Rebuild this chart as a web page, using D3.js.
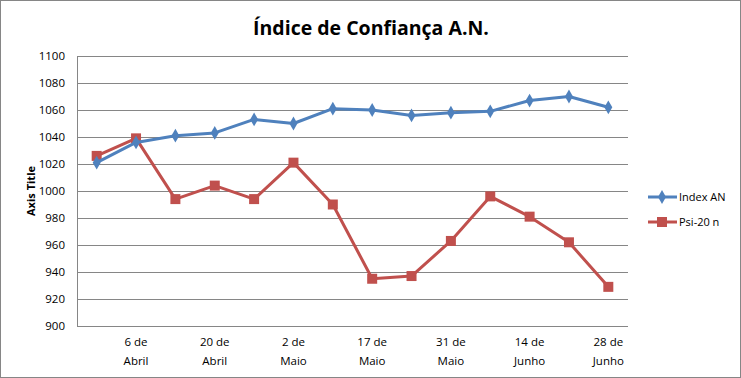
<!DOCTYPE html>
<html>
<head>
<meta charset="utf-8">
<script src="https://cdn.jsdelivr.net/npm/d3@7"></script>
<style>
body { margin: 0; background: #fff; }
svg { display: block; }
</style>
</head>
<body>
<script>
// données
const categories = ["", "6 de|Abril", "", "20 de|Abril", "", "2 de|Maio", "", "17 de|Maio", "", "31 de|Maio", "", "14 de|Junho", "", "28 de|Junho"]
const indexAN = [1021, 1036, 1041, 1043, 1053, 1050, 1061, 1060, 1056, 1058, 1059, 1067, 1070, 1062]
const psi20 = [1026, 1039, 994, 1004, 994, 1021, 990, 935, 937, 963, 996, 981, 962, 929]
const yTicks = [900, 920, 940, 960, 980, 1000, 1020, 1040, 1060, 1080, 1100]

const W = 741, H = 378
const font = "'Open Sans', 'Liberation Sans', sans-serif"

const svg = d3.select("body").append("svg").attr("width", W).attr("height", H)

// cadre
svg.append("rect").attr("x", 0.5).attr("y", 0.5).attr("width", W - 1).attr("height", H - 1)
  .attr("fill", "#fff").attr("stroke", "#868686")

const x = d3.scaleBand().domain(d3.range(categories.length)).range([77, 628])
const y = d3.scaleLinear().domain([900, 1100]).range([326, 56])

// gridlines
svg.append("g").selectAll("line").data(yTicks).enter().append("line")
  .attr("x1", 77).attr("x2", 628)
  .attr("y1", d => Math.round(y(d)) + 0.5).attr("y2", d => Math.round(y(d)) + 0.5)
  .attr("stroke", "#868686")

svg.append("line").attr("x1", 77.5).attr("x2", 77.5).attr("y1", y(1100)).attr("y2", y(900))
  .attr("stroke", "#868686")

// y labels
svg.append("g").selectAll("text").data(yTicks).enter().append("text")
  .attr("x", 65).attr("y", d => y(d) + 4)
  .attr("text-anchor", "end").attr("font-family", font).attr("font-size", 11.5)
  .attr("fill", "#000").text(d => d)

// x labels
const xl = svg.append("g").selectAll("text").data(categories.map((c, i) => [c, i]).filter(d => d[0] !== ""))
  .enter().append("text")
  .attr("text-anchor", "middle").attr("font-family", font).attr("font-size", 11.5).attr("fill", "#000")
xl.append("tspan").attr("x", d => x(d[1]) + x.bandwidth() / 2).attr("y", 346).text(d => d[0].split("|")[0])
xl.append("tspan").attr("x", d => x(d[1]) + x.bandwidth() / 2).attr("y", 365).text(d => d[0].split("|")[1])

// titre
svg.append("text").attr("x", 371).attr("y", 35).attr("text-anchor", "middle")
  .attr("font-family", font).attr("font-weight", "bold").attr("font-size", 19.5)
  .text("Índice de Confiança A.N.")

svg.append("text").attr("transform", "translate(35,191) rotate(-90)").attr("text-anchor", "middle")
  .attr("font-family", font).attr("font-weight", "bold").attr("font-size", 11)
  .text("Axis Title")

// séries
const series = [
  { name: "Index AN", values: indexAN, color: "#4F81BD", shape: d3.symbolDiamond, size: 55 },
  { name: "Psi-20 n", values: psi20, color: "#C0504D", shape: d3.symbolSquare, size: 100 }
]
const cx = i => x(i) + x.bandwidth() / 2
const line = d3.line().x((d, i) => cx(i)).y(d => y(d))

series.slice().reverse().forEach(s => {
  svg.append("path").datum(s.values).attr("d", line)
    .attr("fill", "none").attr("stroke", s.color).attr("stroke-width", 3).attr("stroke-linejoin", "round")
  svg.append("g").selectAll("path").data(s.values).enter().append("path")
    .attr("d", d3.symbol().type(s.shape).size(s.size))
    .attr("transform", (d, i) => `translate(${cx(i)},${y(d)})`)
    .attr("fill", s.color)
})

// légende
series.forEach((s, i) => {
  const ly = 197 + i * 25
  svg.append("line").attr("x1", 648).attr("x2", 677).attr("y1", ly).attr("y2", ly)
    .attr("stroke", s.color).attr("stroke-width", 3)
  svg.append("path").attr("d", d3.symbol().type(s.shape).size(s.size))
    .attr("transform", `translate(662,${ly})`).attr("fill", s.color)
  svg.append("text").attr("x", 679).attr("y", ly + 4).attr("font-family", font).attr("font-size", 11)
    .text(s.name)
})
</script>
</body>
</html>
